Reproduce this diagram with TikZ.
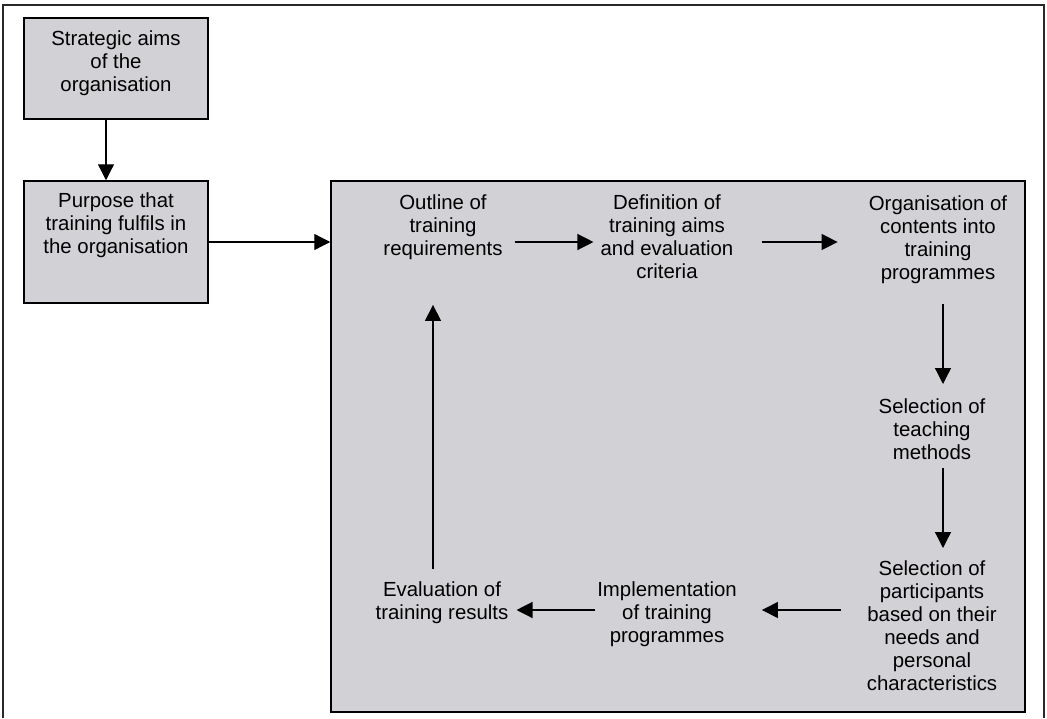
\documentclass[tikz,border=0pt]{standalone}
\usepackage{fontspec}
\setmainfont{Liberation Sans}
\usetikzlibrary{arrows.meta}
\definecolor{boxgray}{RGB}{210,210,214}
\definecolor{framegray}{RGB}{40,40,40}
\begin{document}
\begin{tikzpicture}[x=1pt, y=-1pt,
  box/.style={draw, fill=boxgray, line width=1.5pt, minimum width=184pt},
  txt/.style={anchor=north, align=center, inner sep=0pt, font=\fontsize{20.4}{23}\selectfont},
  arr/.style={-{Triangle[length=16pt,width=16pt]}, line width=1.3pt}]
\useasboundingbox (0,0) rectangle (1047,718);
\draw[framegray, line width=1.5pt] (3,718) -- (3,5) -- (1044,5) -- (1044,718);
\node[box, minimum height=101pt] (aims) at (116,68.5) {};
\node[box, minimum height=122pt] (purpose) at (116,242) {};
\node[box, minimum width=694pt, minimum height=531pt] (cycle) at (678,446.5) {};
\node[txt] (aimstxt) at (116,30.5) {Strategic aims\\of the\\organisation};
\node[txt] (purposetxt) at (116,192.5) {Purpose that\\training fulfils in\\the organisation};
\foreach \n/\x/\y/\t in {outline/443/194.5/{Outline of\\training\\requirements},
    defn/667/194.5/{Definition of\\training aims\\and evaluation\\criteria},
    org/938/195.5/{Organisation of\\contents into\\training\\programmes},
    teach/932/398.5/{Selection of\\teaching\\methods},
    part/932/560.5/{Selection of\\participants\\based on their\\needs and\\personal\\characteristics},
    impl/667/581.5/{Implementation\\of training\\programmes},
    eval/442/581.5/{Evaluation of\\training results}}
  \node[txt] (\n) at (\x,\y) {\t};
\coordinate (row1) at (0,242);
\coordinate (row2) at (0,610);
\coordinate (col1) at (943,0);
\coordinate (col2) at (433,0);
\draw[arr] ([xshift=-10pt]aims.south) -- ([xshift=-10pt]purpose.north);
\draw[arr] (purpose.east) -- (cycle.west |- purpose.east);
\draw[arr, shorten <=12pt, shorten >=7pt] (outline.east |- row1) -- (defn.west |- row1);
\draw[arr, shorten <=28pt, shorten >=31pt] (defn.east |- row1) -- (org.west |- row1);
\draw[arr, shorten <=20pt, shorten >=14.5pt] (org.south -| col1) -- (teach.north -| col1);
\draw[arr, shorten <=8pt, shorten >=12.5pt] (teach.south -| col1) -- (part.north -| col1);
\draw[arr, shorten <=26pt, shorten >=25pt] (part.west |- row2) -- (impl.east |- row2);
\draw[arr, shorten <=2pt, shorten >=8pt] (impl.west |- row2) -- (eval.east |- row2);
\draw[arr, shorten <=12.5pt, shorten >=45pt] (eval.north -| col2) -- (outline.south -| col2);
\end{tikzpicture}
\end{document}
